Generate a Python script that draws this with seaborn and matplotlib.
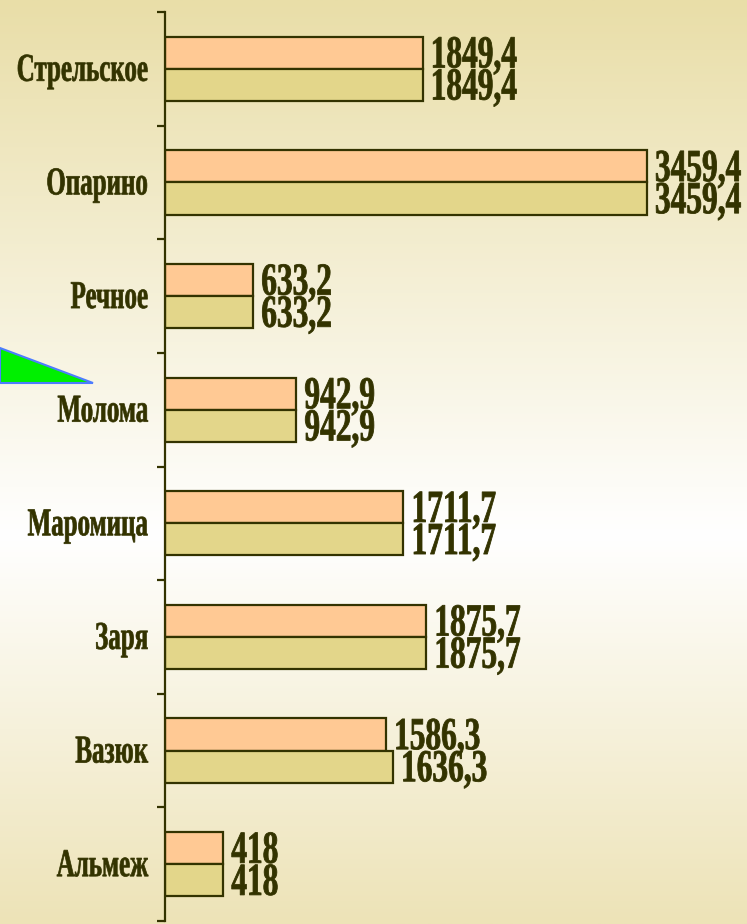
import numpy as np
import pandas as pd
import matplotlib
matplotlib.use("Agg")
import matplotlib.pyplot as plt
import seaborn as sns
from matplotlib.patheffects import AbstractPathEffect
from matplotlib.transforms import Affine2D
from matplotlib.patches import Polygon

# ---- data ----
categories = ["Стрельское", "Опарино", "Речное", "Молома", "Маромица", "Заря", "Вазюк", "Альмеж"]
series_names = ["Ряд 1", "Ряд 2"]
values_1 = [1849.4, 3459.4, 633.2, 942.9, 1711.7, 1875.7, 1586.3, 418]
values_2 = [1849.4, 3459.4, 633.2, 942.9, 1711.7, 1875.7, 1636.3, 418]

df = pd.DataFrame({
    "cat": categories * 2,
    "val": values_1 + values_2,
    "series": [series_names[0]] * len(categories) + [series_names[1]] * len(categories),
})

ORANGE = "#FFC994"
KHAKI = "#E3D68A"
DARK = "#333300"


class Tall(AbstractPathEffect):
    """Draw text glyphs stretched vertically about the baseline (condensed, heavy look)."""
    def __init__(self, sy=1.5, dy=0.0, stroke=0.5):
        super().__init__()
        self.sy = sy
        self.dy = dy
        self.stroke = stroke

    def draw_path(self, renderer, gc, tpath, affine, rgbFace=None):
        t = Affine2D().scale(1, self.sy) + affine + Affine2D().translate(0, -self.dy)
        gc0 = renderer.new_gc()
        gc0.copy_properties(gc)
        if rgbFace is not None and self.stroke > 0:
            gc0.set_foreground(rgbFace)
            gc0.set_linewidth(self.stroke)
            gc0.set_joinstyle("round")
        renderer.draw_path(gc0, tpath, t, rgbFace)
        gc0.restore()


W, H = 747, 924
fig = plt.figure(figsize=(W / 100, H / 100), dpi=100)

# background gradient
bg = fig.add_axes([0, 0, 1, 1], zorder=-10)
bg.set_axis_off()
ys = np.linspace(0, 1, 400)
stops_y = [0.0, 0.58, 1.0]
stops_c = np.array([[233, 222, 168], [255, 255, 255], [237, 227, 183]]) / 255.0
grad = np.stack([np.interp(ys, stops_y, stops_c[:, k]) for k in range(3)], axis=-1)
bg.imshow(grad[:, None, :], aspect="auto", extent=[0, 1, 0, 1], origin="upper")
bg.set_xlim(0, 1)
bg.set_ylim(0, 1)

# decorative green triangle on the left
tri = Polygon([[0 / W, 1 - 348 / H], [93 / W, 1 - 383 / H], [0 / W, 1 - 383 / H]],
              closed=True, transform=fig.transFigure, facecolor="#00F000",
              edgecolor="#4D7CFF", linewidth=1.5, zorder=-5)
fig.patches.append(tri)

ax = fig.add_axes([165 / W, (H - 921) / H, (W - 165) / W, (921 - 12) / H])
ax.set_facecolor("none")

sns.barplot(data=df, y="cat", x="val", hue="series", orient="h",
            palette=[ORANGE, KHAKI], width=0.565, edgecolor=DARK,
            linewidth=1.6, ax=ax, legend=False, saturation=1)

ax.set_xlim(0, (W - 165) / 0.1393)
ax.set_ylim(len(categories) - 0.5, -0.5)
ax.set_xlabel("")
ax.set_ylabel("")
ax.set_xticks([])

for s in ["top", "right", "bottom"]:
    ax.spines[s].set_visible(False)
ax.spines["left"].set_color(DARK)
ax.spines["left"].set_linewidth(1.6)

ax.set_yticks(np.arange(-0.5, len(categories), 1.0))
ax.set_yticklabels([""] * (len(categories) + 1))
ax.set_yticks(np.arange(len(categories)), minor=True)
ax.set_yticklabels(categories, minor=True, fontfamily="Liberation Serif",
                   fontweight="bold", fontsize=18, color=DARK, va="baseline")
ax.tick_params(axis="y", which="major", length=6, width=1.6, color=DARK, direction="out")
ax.tick_params(axis="y", which="minor", length=0, pad=12)
for lbl in ax.get_yticklabels(minor=True):
    lbl.set_path_effects([Tall(1.58, 12, 0.5)])

# value labels
for cont, vals in zip(ax.containers, [values_1, values_2]):
    for bar, v in zip(cont, vals):
        txt = f"{v:g}".replace(".", ",")
        a = ax.annotate(txt, xy=(bar.get_width(), bar.get_y() + bar.get_height()),
                        xytext=(5.8, 1.0), textcoords="offset points",
                        ha="left", va="baseline", fontfamily="Liberation Serif",
                        fontweight="bold", fontsize=22.6, color=DARK,
                        annotation_clip=False)
        a.set_path_effects([Tall(1.46, 0, 0.6)])

fig.savefig("out.png", dpi=100)
